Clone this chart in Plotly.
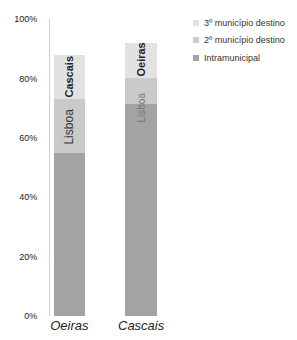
import plotly.graph_objects as go

categories = ["Oeiras", "Cascais"]
intramunicipal = [55, 71.5]
segundo = [18, 8.5]
terceiro = [15, 12]
segundo_labels = ["Lisboa", "Lisboa"]
terceiro_labels = ["Cascais", "Oeiras"]
series_names = ["Intramunicipal", "2º município destino", "3º município destino"]
series_colors = ["#a3a3a3", "#cacaca", "#e2e2e2"]
y_ticks = [0, 20, 40, 60, 80, 100]
y_tick_labels = ["0%", "20%", "40%", "60%", "80%", "100%"]

xpos = list(range(len(categories)))

# plot area in pixels (for legend placement)
L, R, T, B = 50, 120, 19, 24
W, H = 297, 340
pw, ph = W - L - R, H - T - B


def px_x(px):
    return (px - L) / pw


def px_y(py):
    return (H - B - py) / ph


fig = go.Figure()
for vals, name, col in zip([intramunicipal, segundo, terceiro], series_names, series_colors):
    fig.add_trace(go.Bar(x=xpos, y=vals, name=name, showlegend=False,
                         marker=dict(color=col, line=dict(width=0)), width=0.44))

for i in xpos:
    b2 = intramunicipal[i]
    b3 = b2 + segundo[i]
    small = segundo[i] < 12
    fig.add_annotation(x=i, y=b3, yanchor="top", yshift=-(12 if small else 7),
                       text=segundo_labels[i], textangle=-90, showarrow=False,
                       font=dict(size=10 if small else 12, color="#777" if small else "#333",
                                 family="Liberation Sans"))
    fig.add_annotation(x=i, y=b3, yanchor="bottom", yshift=0,
                       text="<b>" + terceiro_labels[i] + "</b>", textangle=-90,
                       showarrow=False, font=dict(size=11, color="#222", family="Liberation Sans"))

# legend drawn manually (reversed order: top = 3º)
leg_rows = [58, 40, 23]
for name, col, py in zip(series_names, series_colors, leg_rows):
    fig.add_shape(type="rect", xref="paper", yref="paper",
                  x0=px_x(193), x1=px_x(199), y0=px_y(py + 3), y1=px_y(py - 3),
                  fillcolor=col, line=dict(width=0))
    fig.add_annotation(xref="paper", yref="paper", x=px_x(202), y=px_y(py),
                       xanchor="left", yanchor="middle", text=name, showarrow=False,
                       font=dict(size=9, color="#333", family="Liberation Sans"))

fig.update_layout(
    barmode="stack",
    width=W, height=H,
    margin=dict(l=L, r=R, t=T, b=B),
    paper_bgcolor="white", plot_bgcolor="white",
    font=dict(family="Liberation Sans", color="#333"),
    showlegend=False,
    xaxis=dict(range=[-0.27, 1.5], tickvals=xpos,
               ticktext=["<i>" + c + "</i>" for c in categories],
               tickfont=dict(size=13, color="#222"), showline=False, showgrid=False,
               zeroline=False, ticks="", ticklabelstandoff=0, automargin=False),
    yaxis=dict(range=[0, 100], tickvals=y_ticks, ticktext=y_tick_labels,
               tickfont=dict(size=9, color="#222"), showgrid=False, zeroline=False,
               showline=True, linecolor="#d0d0d0", linewidth=1, ticks="",
               ticklabelstandoff=10, automargin=False),
)

fig.write_html("out.html", config={"displayModeBar": False},
               post_script="document.body.style.margin='0';")
